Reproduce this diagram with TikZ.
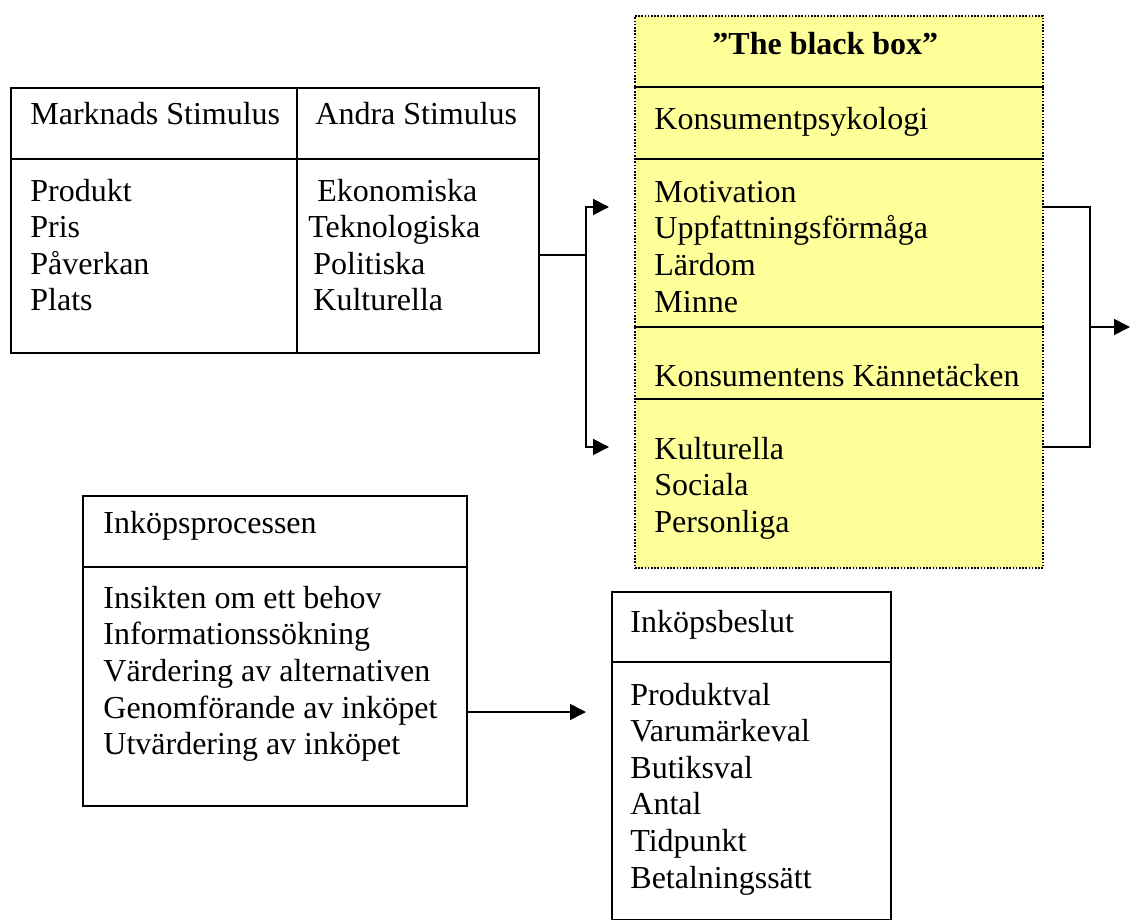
\documentclass[tikz,border=0pt]{standalone}
\usepackage{fontspec}
\setmainfont{Liberation Serif}
\usepackage{tikz}
\usetikzlibrary{arrows.meta}

\tikzset{
    box/.style={draw, line width=0.8pt, anchor=north west, inner sep=0pt},
    lbl/.style={anchor=base west, inner sep=0pt, font=\fontsize{16}{18}\selectfont},
    conn/.style={line width=0.8pt},
    tip/.style={conn, -{Triangle[length=8pt, width=8pt]}}
}

\begin{document}
\begin{tikzpicture}[x=0.5pt, y=-0.5pt]
    \useasboundingbox (0,0) rectangle (1130,920);

    % Stimulus table
    \node[box, minimum width=264pt, minimum height=132.5pt] (stim) at (10,87) {};
    \draw[conn] (stim.west |- 0,159) -- (stim.east |- 0,159);
    \draw[conn] (297,87) -- (297,352);
    \node[lbl] (mhead) at (30,125) {Marknads Stimulus};
    \node[lbl] (ahead) at (315,125) {Andra Stimulus};
    \foreach \t [count=\i] in {Produkt,Pris,Påverkan,Plats}
        \node[lbl] (mk\i) at (30,{201+36.5*(\i-1)}) {\t};
    \foreach \x/\t [count=\i] in {317/Ekonomiska,308/Teknologiska,313/Politiska,313/Kulturella}
        \node[lbl] (an\i) at (\x,{201+36.5*(\i-1)}) {\t};

    % The black box
    \node[box, fill={rgb,255:red,255;green,255;blue,153}, draw=black, line width=0.9pt,
        dash pattern=on 0.8pt off 0.8pt, minimum width=204pt, minimum height=276pt] (bbox) at (634,15) {};
    \foreach \y in {87,159,327,399}
        \draw[conn] (bbox.west |- 0,\y) -- (bbox.east |- 0,\y);
    \node[lbl, font=\fontsize{16}{18}\selectfont\bfseries] (btitle) at (712,55) {”The black box”};
    \node[lbl] (psyk) at (654,130) {Konsumentpsykologi};
    \foreach \t [count=\i] in {Motivation,Uppfattningsförmåga,Lärdom,Minne}
        \node[lbl] (ps\i) at (654,{202+36.7*(\i-1)}) {\t};
    \node[lbl] (kann) at (654,386) {Konsumentens Kännetäcken};
    \foreach \t [count=\i] in {Kulturella,Sociala,Personliga}
        \node[lbl] (kn\i) at (654,{459+36.7*(\i-1)}) {\t};

    % Inkopsprocessen
    \node[box, minimum width=192pt, minimum height=155pt] (proc) at (82,495) {};
    \draw[conn] (proc.west |- 0,567) -- (proc.east |- 0,567);
    \node[lbl] (phead) at (103,533) {Inköpsprocessen};
    \foreach \t [count=\i] in {Insikten om ett behov,Informationssökning,Värdering av alternativen,Genomförande av inköpet,Utvärdering av inköpet}
        \node[lbl] (pr\i) at (103,{608+36.7*(\i-1)}) {\t};

    % Inkopsbeslut
    \node[box, minimum width=139.5pt, minimum height=164pt] (beslut) at (611,591) {};
    \draw[conn] (beslut.west |- 0,662) -- (beslut.east |- 0,662);
    \node[lbl] (bhead) at (630,632) {Inköpsbeslut};
    \foreach \t [count=\i] in {Produktval,Varumärkeval,Butiksval,Antal,Tidpunkt,Betalningssätt}
        \node[lbl] (be\i) at (630,{705+36.6*(\i-1)}) {\t};

    % Connectors
    \coordinate (split) at (586,255);
    \coordinate (merge) at (1090,327);
    \coordinate (outR) at (1130,327);
    \draw[conn] (stim.east |- split) -- (split);
    \draw[tip] (split) |- (609,207);
    \draw[tip] (split) |- (609,447);
    \draw[conn] (bbox.east |- 0,207) -| (merge) |- (bbox.east |- 0,447);
    \draw[tip] (merge) -- (outR);
    \draw[tip] (proc.east |- 0,712) -- (586,712);
\end{tikzpicture}
\end{document}
